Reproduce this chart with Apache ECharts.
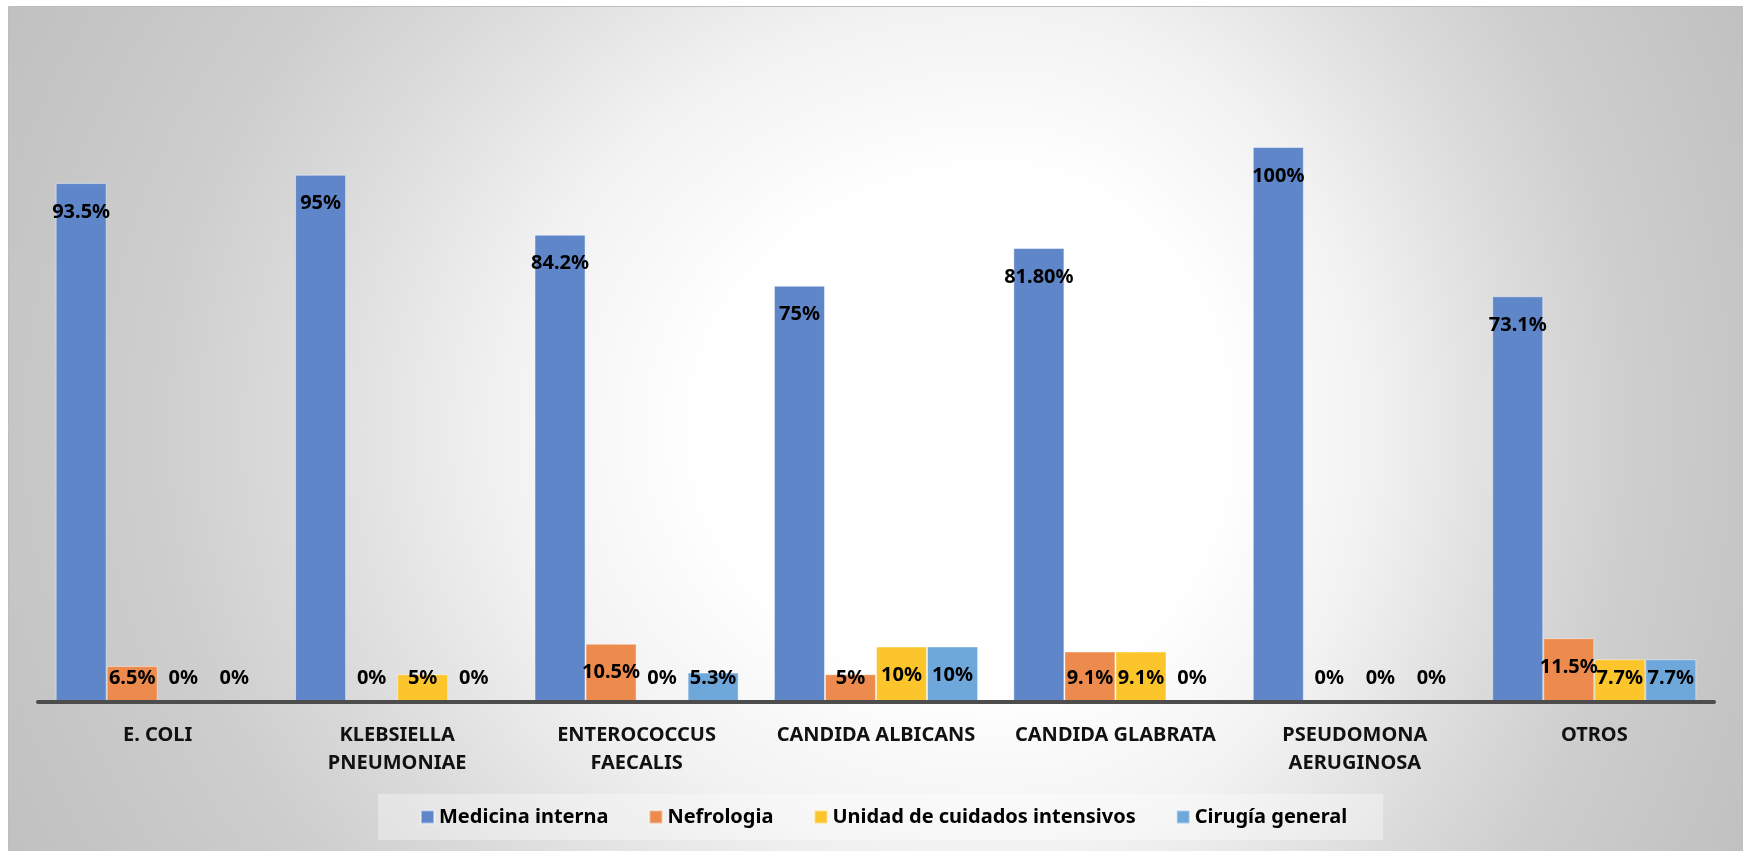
<!DOCTYPE html>
<html>
<head>
<meta charset="utf-8">
<script src="https://cdn.jsdelivr.net/npm/echarts@6/dist/echarts.min.js"></script>
<style>
  html, body { margin: 0; padding: 0; background: #ffffff; }
  #chart { width: 1743px; height: 851px; }
</style>
</head>
<body>
<div id="chart"></div>
<script>
// Microorganismos aislados por servicio (% de casos)
const categories = [
  'E. COLI',
  'KLEBSIELLA\nPNEUMONIAE',
  'ENTEROCOCCUS\nFAECALIS',
  'CANDIDA ALBICANS',
  'CANDIDA GLABRATA',
  'PSEUDOMONA\nAERUGINOSA',
  'OTROS'
];
const seriesNames = ['Medicina interna', 'Nefrologia', 'Unidad de cuidados intensivos', 'Cirugía general'];
const medicinaInterna    = [93.5, 95, 84.2, 75, 81.8, 100, 73.1];
const nefrologia         = [6.5, 0, 10.5, 5, 9.1, 0, 11.5];
const cuidadosIntensivos = [0, 5, 0, 10, 9.1, 0, 7.7];
const cirugiaGeneral     = [0, 0, 5.3, 10, 0, 0, 7.7];
// printed label text for Medicina interna (one value is written with two decimals)
const medicinaLabels = ['93.5%', '95%', '84.2%', '75%', '81.80%', '100%', '73.1%'];

const colors = ['#5f86c9', '#ec8b4d', '#fcc52b', '#6ea7da'];

const W = 1743, H = 851;
const frame = { x: 9, y: 7 };
// light spot of the background and its falloff radii
const spot = { x: 1000, y: 430, ry: 850 };
const tMax = 1.15;
const bgStops = [
  [0.0, '#ffffff'], [0.3, '#ffffff'], [0.5, '#f2f2f2'], [0.7, '#dcdcdc'],
  [0.85, '#cecece'], [1.0, '#c6c6c6'], [1.15, '#bfbfbf']
].map(([t, c]) => ({ offset: t / tMax, color: c }));

function halfBackground(x0, x1, rx) {
  const s = rx / spot.ry;
  return {
    type: 'rect', silent: true, z: -100,
    x: spot.x, y: spot.y, scaleX: s, scaleY: 1,
    shape: { x: (x0 - spot.x) / s, y: frame.y - spot.y, width: (x1 - x0) / s, height: H - frame.y },
    style: {
      fill: { type: 'radial', x: 0, y: 0, r: spot.ry * tMax, global: true, colorStops: bgStops }
    }
  };
}

const labelFont = {
  fontFamily: "'Noto Sans', sans-serif",
  fontWeight: 'bold',
  fontSize: 20,
  color: '#000000'
};

function makeSeries(name, values, color, labels) {
  return {
    name: name,
    type: 'bar',
    data: values,
    barGap: '0%',
    barCategoryGap: '14.75%',
    itemStyle: { color: color, borderColor: 'rgba(255,255,255,0.45)', borderWidth: 1 },
    label: Object.assign({
      show: true,
      position: 'inside',
      formatter: p => labels ? labels[p.dataIndex] : p.value + '%'
    }, labelFont),
    // label sits just below the bar top, but never lower than a fixed height above the axis
    labelLayout: function (params) {
      const r = params.rect;
      const top = Math.min(r.y, r.y + r.height);
      const bottom = Math.max(r.y, r.y + r.height);
      return {
        x: r.x + r.width / 2,
        y: Math.min(top + 29, bottom - 24),
        align: 'center',
        verticalAlign: 'middle'
      };
    }
  };
}

const chart = echarts.init(document.getElementById('chart'));
chart.setOption({
  animation: false,
  backgroundColor: '#ffffff',
  graphic: {
    elements: [
      halfBackground(frame.x, spot.x, spot.x - frame.x),
      halfBackground(spot.x, W, W - spot.x),
      {
        type: 'rect', silent: true, z: -99,
        shape: { x: frame.x - 0.5, y: frame.y - 0.5, width: W - frame.x + 2, height: H - frame.y + 2 },
        style: { fill: null, stroke: '#bdbdbd', lineWidth: 1 }
      }
    ]
  },
  color: colors,
  grid: { left: 38, right: 29, top: 147, bottom: 149, containLabel: false },
  legend: {
    data: seriesNames,
    left: 378,
    top: 794,
    padding: [13, 36, 13, 42],
    backgroundColor: 'rgba(255,255,255,0.35)',
    itemWidth: 13,
    itemHeight: 13,
    itemGap: 40,
    icon: 'rect',
    textStyle: { fontFamily: "'Noto Sans', sans-serif", fontWeight: 'bold', fontSize: 20, color: '#000000' }
  },
  xAxis: {
    type: 'category',
    data: categories,
    axisLine: { show: true, lineStyle: { color: '#4d4d4d', width: 4 } },
    axisTick: { show: false },
    axisLabel: {
      interval: 0,
      margin: 19,
      fontFamily: "'Noto Sans', sans-serif",
      fontWeight: 'bold',
      fontSize: 20,
      lineHeight: 28,
      color: '#111111'
    },
    z: 5
  },
  yAxis: {
    type: 'value',
    min: 0,
    max: 100,
    interval: 20,
    show: false,
    splitLine: { show: false }
  },
  series: [
    makeSeries(seriesNames[0], medicinaInterna, colors[0], medicinaLabels),
    makeSeries(seriesNames[1], nefrologia, colors[1]),
    makeSeries(seriesNames[2], cuidadosIntensivos, colors[2]),
    makeSeries(seriesNames[3], cirugiaGeneral, colors[3])
  ]
});
</script>
</body>
</html>
